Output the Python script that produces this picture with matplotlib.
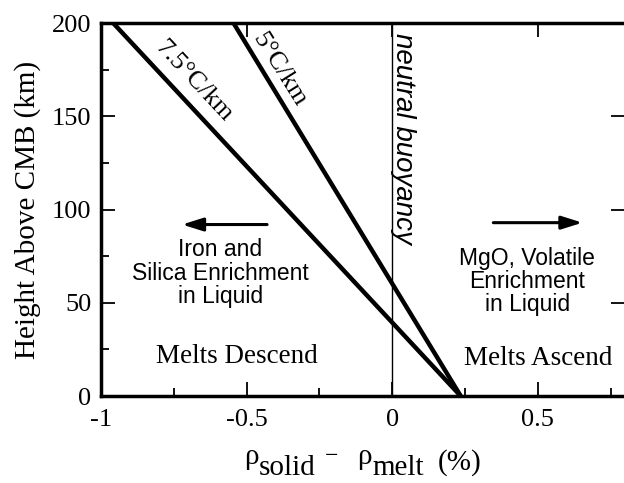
import matplotlib.pyplot as plt
import numpy as np
import matplotlib.ticker as tck

plt.rcParams['font.family'] = ['Liberation Serif', 'DejaVu Serif']

# density contrast (%) vs height above CMB (km) for two thermal gradients
height = [200, 0]
drho_75 = [-0.958, 0.235]   # 7.5 C/km
drho_5 = [-0.545, 0.235]    # 5 C/km

W, H = 624, 483
fig = plt.figure(figsize=(W / 100, H / 100), dpi=100)
ax = fig.add_axes([0.162, 0.180, 0.840, 0.772])

ax.plot(drho_75, height, color='black', linewidth=3.2, solid_capstyle='butt')
ax.plot(drho_5, height, color='black', linewidth=3.2, solid_capstyle='butt')
ax.axvline(0, color='black', linewidth=1.0)

ax.set_xlim(-1, 0.8)
ax.set_ylim(0, 200)

ax.xaxis.set_major_locator(tck.FixedLocator([-1, -0.5, 0, 0.5]))
ax.xaxis.set_minor_locator(tck.MultipleLocator(0.25))
ax.yaxis.set_major_locator(tck.MultipleLocator(50))
ax.yaxis.set_minor_locator(tck.MultipleLocator(25))
ax.set_xticklabels(['-1', '-0.5', '0', '0.5'])

ax.tick_params(bottom=True, top=True, left=True, right=True)
ax.tick_params(which='major', length=10, width=1.3, direction='in', labelsize=19, pad=7)
ax.tick_params(axis='x', which='major', pad=9)
ax.tick_params(which='minor', length=6, width=1.3, direction='in')

for axis in ['top', 'bottom', 'left', 'right']:
    ax.spines[axis].set_linewidth(2.5)

ax.set_ylabel('Height Above CMB (km)', fontsize=21, labelpad=8)

# x label pieces: full-size subscripts, raised rho and minus
def ftext(x, y, s, **kw):
    fig.text(x / W, 1 - y / H, s, va='baseline', ha='left', **kw)

ftext(244, 464, 'ρ', fontsize=21)
ftext(259, 475, 'solid', fontsize=21)
ftext(325, 462, '−', fontsize=17)
ftext(357, 464, 'ρ', fontsize=21)
ftext(372, 475, 'melt', fontsize=21)
ftext(438, 470, '(%)', fontsize=21)

# gradient labels along the lines
ax.text(-0.683, 169, '7.5°C/km', rotation=-47, fontsize=19, ha='center', va='center')
ax.text(-0.387, 175, '5°C/km', rotation=-58, fontsize=19, ha='center', va='center')

ax.text(0.036, 195, 'neutral buoyancy', rotation=-90, fontsize=20, ha='center', va='top',
        family='Liberation Sans', style='italic')

# direction arrows
arrow = dict(arrowstyle='-|>,head_length=0.7,head_width=0.22', color='black', lw=2.2,
             mutation_scale=18, shrinkA=0, shrinkB=0)
ax.annotate('', xy=(-0.722, 92), xytext=(-0.43, 92), arrowprops=arrow)
ax.annotate('', xy=(0.653, 93), xytext=(0.347, 93), arrowprops=arrow)

ax.text(-0.59, 66, 'Iron and\nSilica Enrichment\nin Liquid', fontsize=16.5, ha='center',
        va='center', family='Liberation Sans', linespacing=1.02)
ax.text(0.464, 61.5, 'MgO, Volatile\nEnrichment\nin Liquid', fontsize=16.5, ha='center',
        va='center', family='Liberation Sans', linespacing=1.02)

ax.text(-0.533, 21, 'Melts Descend', fontsize=19.5, ha='center', va='center')
ax.text(0.502, 20, 'Melts Ascend', fontsize=19.5, ha='center', va='center')

plt.savefig('out.png', dpi=100)
